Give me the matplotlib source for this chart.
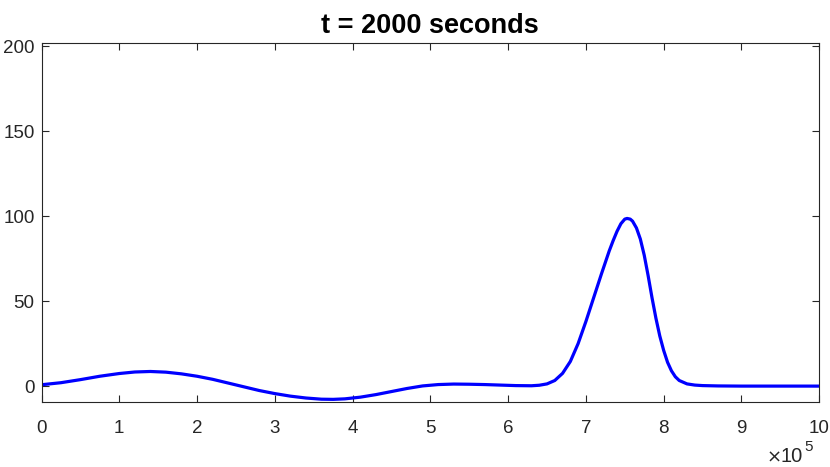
import numpy as np
import matplotlib.pyplot as plt

# curve (x in units of 1e5)
x_vals = [0.0, 0.25, 0.5, 0.75, 1.0, 1.2, 1.4, 1.6, 1.8, 2.0, 2.2, 2.4, 2.6, 2.8,
          3.0, 3.2, 3.4, 3.6, 3.75, 3.9, 4.1, 4.3, 4.5, 4.7, 4.9, 5.1, 5.3, 5.5,
          5.7, 5.9, 6.1, 6.3, 6.4, 6.5, 6.6, 6.7, 6.8, 6.9, 7.0, 7.1, 7.2, 7.3,
          7.35, 7.4, 7.45, 7.5, 7.53, 7.57, 7.6, 7.65, 7.7, 7.75, 7.8, 7.85, 7.9,
          7.95, 8.0, 8.05, 8.1, 8.15, 8.2, 8.3, 8.4, 8.5, 8.7, 9.0, 9.5, 10.0]
y_vals = [0.8, 2.0, 3.8, 5.8, 7.4, 8.3, 8.6, 8.2, 7.2, 5.8, 4.0, 1.8, -0.4, -2.6,
          -4.4, -5.9, -7.0, -7.7, -7.8, -7.5, -6.5, -5.0, -3.2, -1.4, 0.1, 0.9, 1.2, 1.1,
          0.9, 0.6, 0.3, 0.2, 0.5, 1.3, 3.3, 7.5, 14.5, 25, 38, 52, 66, 79.5,
          85.5, 91, 95.5, 98.2, 98.6, 98.2, 97, 93, 86.5, 77, 65, 52, 40,
          29.5, 21, 14, 9, 5.5, 3.3, 1.3, 0.6, 0.3, 0.1, 0.0, 0.0, 0.0]

x_ticks = list(range(0, 11))
y_ticks = [0, 50, 100, 150, 200]
title = "t = 2000 seconds"

plt.rcParams['font.family'] = ['Liberation Sans', 'DejaVu Sans']
axcol = '#262626'

fig = plt.figure(figsize=(8.3, 4.67), dpi=100)
ax = fig.add_axes([0.05, 0.139, 0.937, 0.769])

x = np.array(x_vals) * 1e5
ax.plot(x, y_vals, color='#0000ff', linewidth=2.3, solid_joinstyle='round')

ax.set_xlim(0, 1e6)
ax.set_ylim(-9.4, 201.8)
ax.set_xticks(np.array(x_ticks) * 1e5)
ax.set_xticklabels([str(v) for v in x_ticks])
ax.set_yticks(y_ticks)

ax.tick_params(direction='in', top=True, right=True, length=5, width=0.8,
               colors=axcol, labelsize=13.5)
ax.tick_params(axis='x', pad=13)
ax.tick_params(axis='y', pad=5)
for s in ax.spines.values():
    s.set_color(axcol)
    s.set_linewidth(0.8)

ax.set_title(title, fontsize=19.5, fontweight='bold', pad=7)

# exponent label, MATLAB style
fig.text(0.942, 0.01, '\u00d7', ha='right', va='baseline', fontsize=13,
         family='DejaVu Sans', color=axcol)
fig.text(0.9675, 0.01, '10', ha='right', va='baseline', fontsize=14.5,
         color=axcol)
fig.text(0.9685, 0.034, '5', ha='left', va='baseline', fontsize=11, color=axcol)

fig.savefig('out.png', dpi=100)
